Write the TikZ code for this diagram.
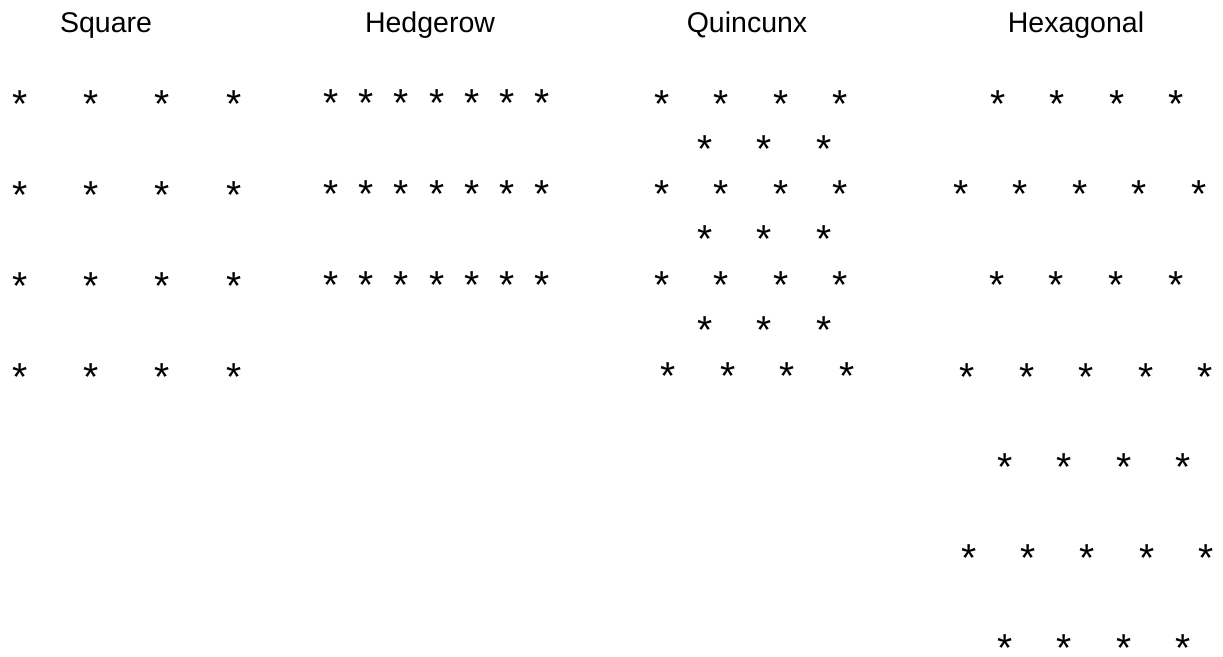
\documentclass[tikz,border=0pt]{standalone}
\usepackage{fontspec}
\setmainfont{Liberation Sans}
\usepackage{tikz}
\usetikzlibrary{positioning}

% asterisk lowered so that the node centre is the centre of the glyph
\newcommand{\plantmark}{\raisebox{-0.4875em}[0.22em][0.22em]{*}}

\begin{document}
\begin{tikzpicture}[
x=1pt,y=-1pt,
title/.style={
font=\fontsize{28.5}{30}\selectfont,
anchor=base,
inner sep=0pt
},
plant/.style={
font=\fontsize{39}{39}\selectfont,
inner sep=0pt
}
]

\useasboundingbox (0,0) rectangle (1223,656);

% headings
\node[title] (square) at (106,32) {Square};
\node[title] (hedgerow) at (430,32) {Hedgerow};
\node[title] (quincunx) at (747,32) {Quincunx};
\node[title] (hexagonal) at (1076,32) {Hexagonal};

% square
\foreach \r/\y in {1/98,2/189,3/280,4/371}
\foreach \c/\x in {1/20,2/91,3/162,4/234}
\node[plant] (sq-\r-\c) at (\x,\y) {\plantmark};

% hedgerow
\foreach \r/\y in {1/97,2/188,3/279}
\foreach \c/\x in {1/331,2/366,3/401,4/437,5/472,6/507,7/542}
\node[plant] (hg-\r-\c) at (\x,\y) {\plantmark};

% quincunx
\foreach \r/\y in {1/98,3/188,5/279}
\foreach \c/\x in {1/662,2/721,3/781,4/840}
\node[plant] (qx-\r-\c) at (\x,\y) {\plantmark};
\foreach \r/\y in {2/143,4/233,6/324}
\foreach \c/\x in {1/705,2/764,3/824}
\node[plant] (qx-\r-\c) at (\x,\y) {\plantmark};
\foreach \c/\x in {1/668,2/728,3/787,4/847}
\node[plant] (qx-7-\c) at (\x,370) {\plantmark};

% hexagonal
\foreach \c/\x in {1/998,2/1057,3/1117,4/1176}
\node[plant] (hx-1-\c) at (\x,98) {\plantmark};
\foreach \c/\x in {1/961,2/1020,3/1080,4/1139,5/1199}
\node[plant] (hx-2-\c) at (\x,188) {\plantmark};
\foreach \c/\x in {1/997,2/1056,3/1116,4/1176}
\node[plant] (hx-3-\c) at (\x,279) {\plantmark};
\foreach \c/\x in {1/967,2/1027,3/1086,4/1146,5/1205}
\node[plant] (hx-4-\c) at (\x,371) {\plantmark};
\foreach \c/\x in {1/1005,2/1064,3/1124,4/1183}
\node[plant] (hx-5-\c) at (\x,461) {\plantmark};
\foreach \c/\x in {1/969,2/1028,3/1087,4/1147,5/1206}
\node[plant] (hx-6-\c) at (\x,552) {\plantmark};
\foreach \c/\x in {1/1005,2/1064,3/1124,4/1183}
\node[plant] (hx-7-\c) at (\x,642) {\plantmark};

\end{tikzpicture}
\end{document}
